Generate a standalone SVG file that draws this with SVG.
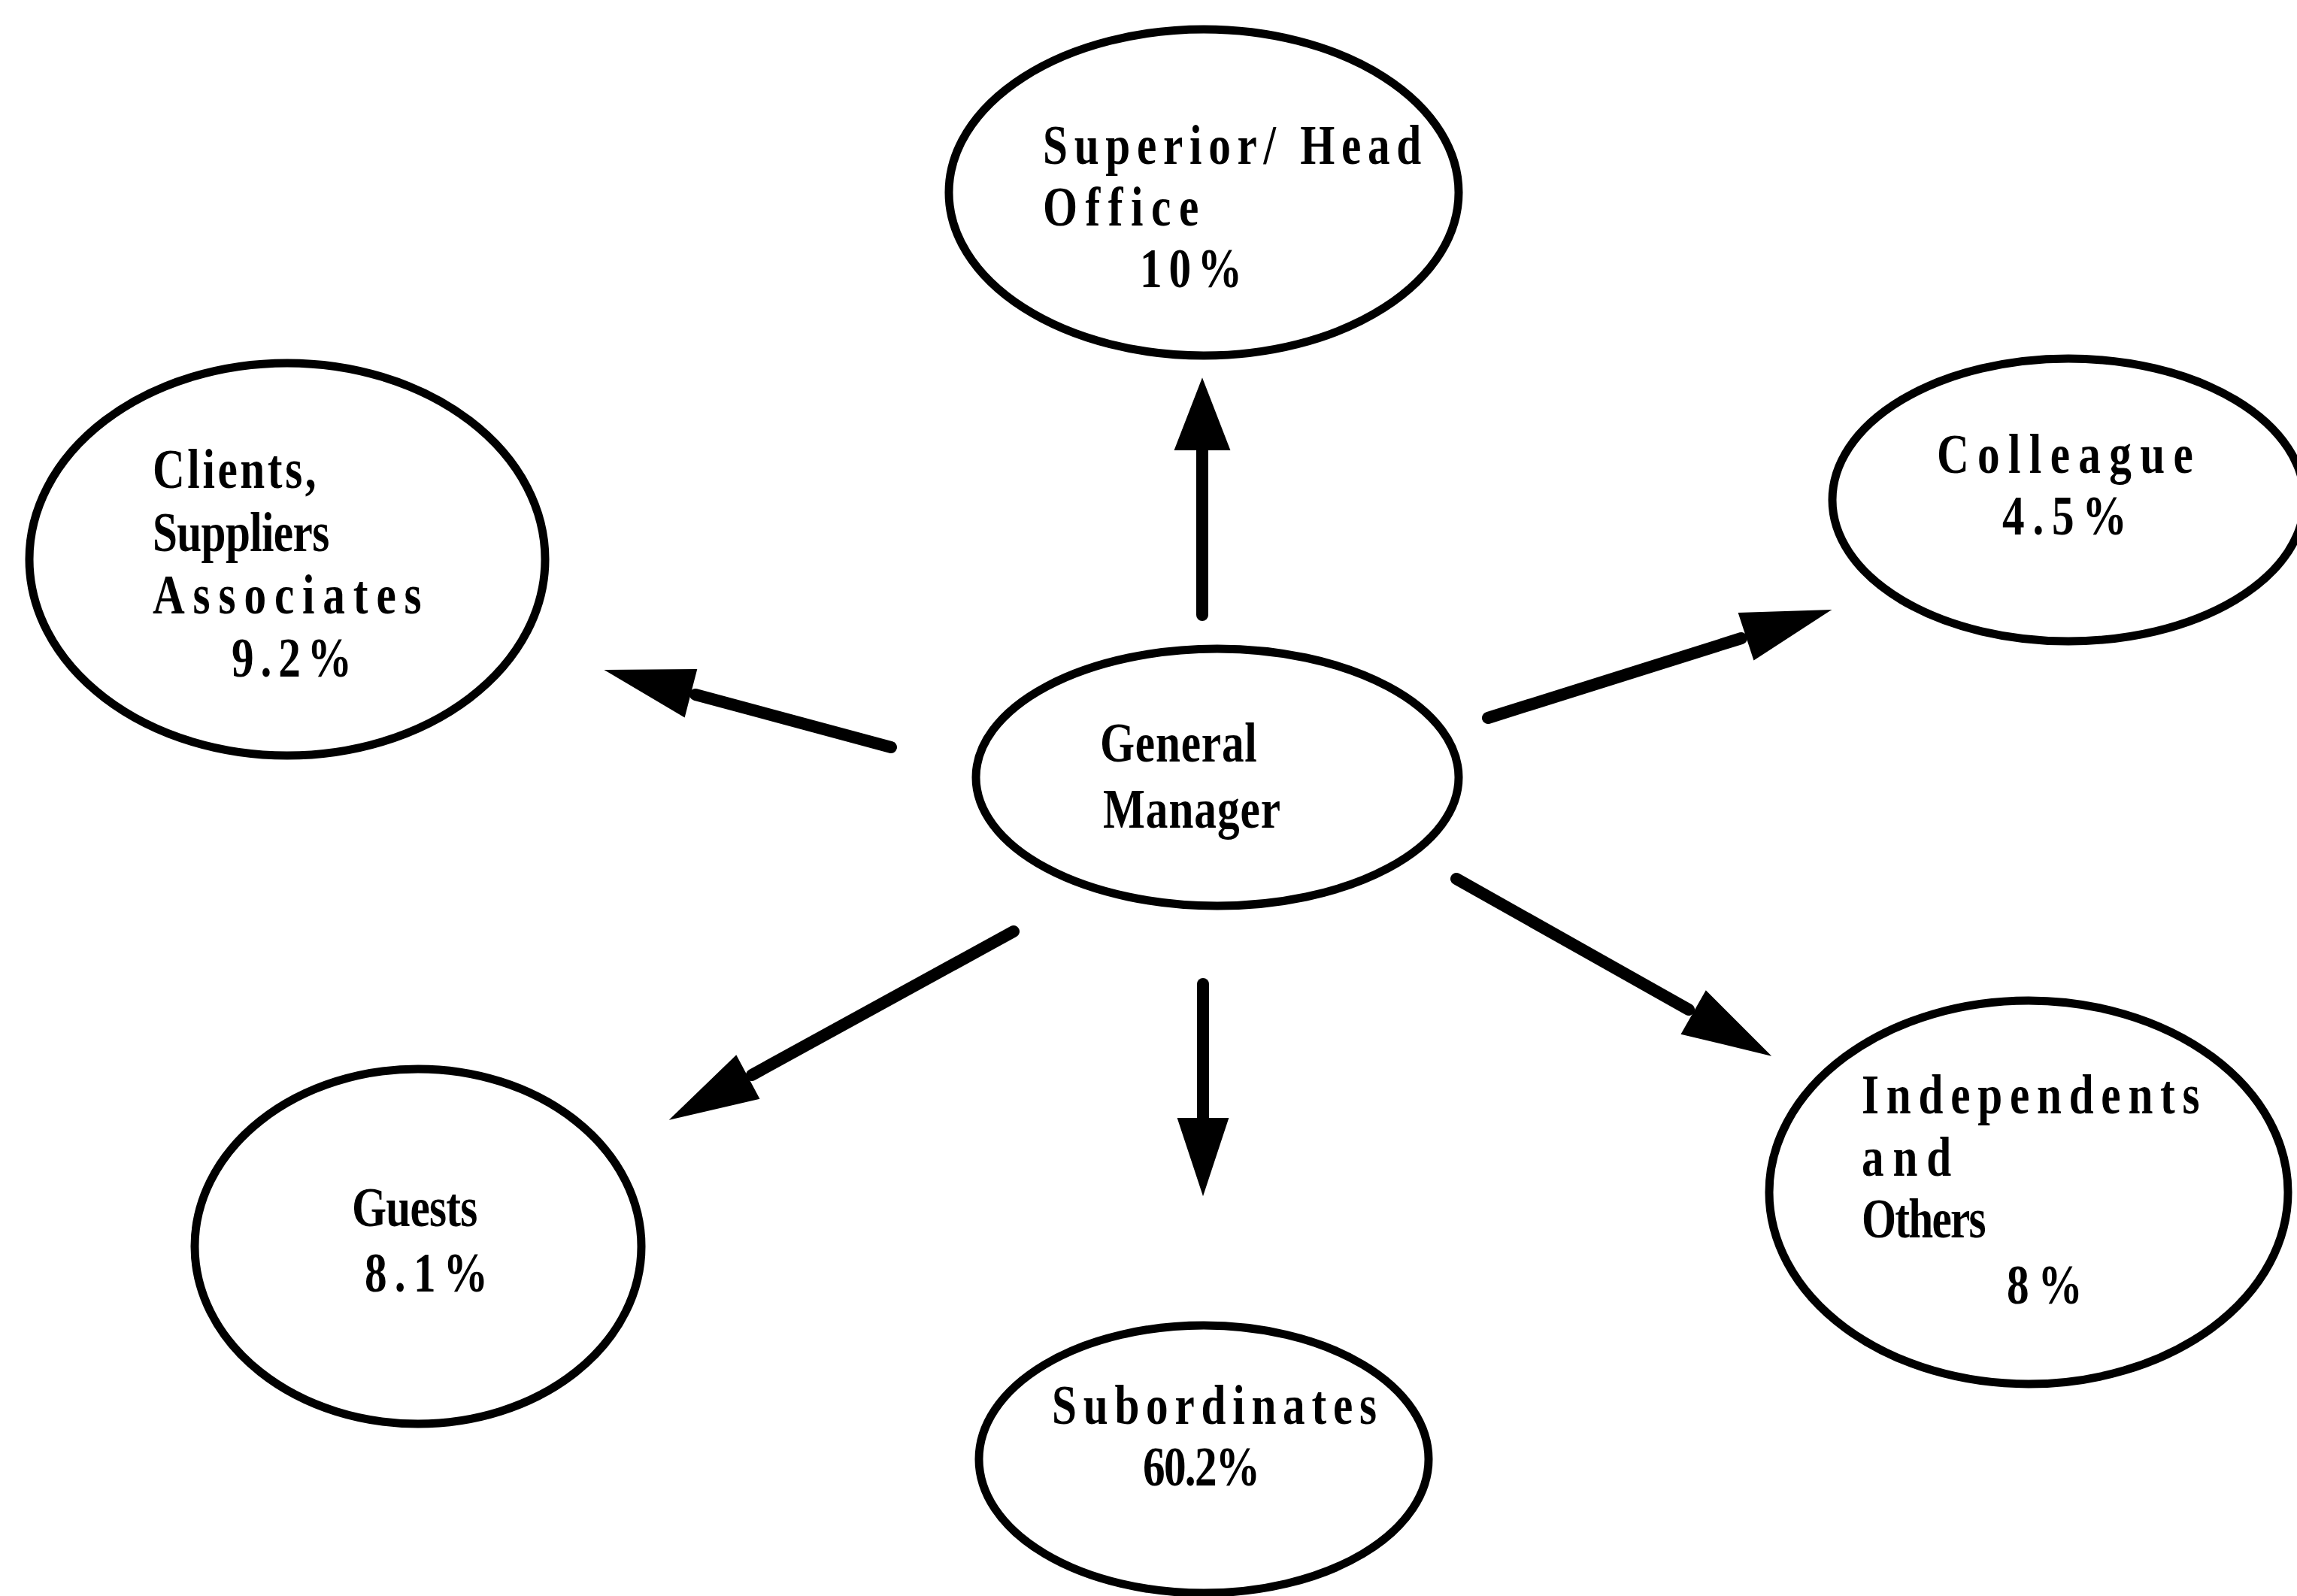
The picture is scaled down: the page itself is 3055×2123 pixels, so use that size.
<svg xmlns="http://www.w3.org/2000/svg" width="3055" height="2123" viewBox="0 0 3055 2123">
  <style>
    .node ellipse { fill: #ffffff; stroke: #000000; stroke-width: 11; }
    .node text { font-family: "Liberation Serif", "Times New Roman", serif; font-weight: bold; font-size: 74px; fill: #000000; }
    .edge { stroke: #000000; stroke-width: 16; stroke-linecap: round; fill: none; }
    .head { fill: #000000; stroke: #000000; stroke-width: 2; stroke-linejoin: miter; }
  </style>
  <rect x="0" y="0" width="3055" height="2123" fill="#ffffff"/>

  <!-- connectors: General Manager to each contact group -->
  <g id="connectors">
    <!-- up: Superior / Head Office -->
    <line class="edge" x1="1599" y1="818" x2="1599" y2="590"/>
    <polygon class="head" points="1599,505 1635,598 1563,598"/>
    <!-- left: Clients, Suppliers, Associates -->
    <line class="edge" x1="1185" y1="994" x2="925" y2="924"/>
    <polygon class="head" points="807,892 926,891 910,953"/>
    <!-- right: Colleague -->
    <line class="edge" x1="1979" y1="955" x2="2316" y2="849"/>
    <polygon class="head" points="2433,812 2333,877 2313,816"/>
    <!-- down-left: Guests -->
    <line class="edge" x1="1348" y1="1239" x2="1000" y2="1430"/>
    <polygon class="head" points="893,1488 1009,1461 979,1405"/>
    <!-- down: Subordinates -->
    <line class="edge" x1="1600" y1="1309" x2="1600" y2="1495"/>
    <polygon class="head" points="1600,1588 1567,1488 1633,1488"/>
    <!-- down-right: Independents and Others -->
    <line class="edge" x1="1937" y1="1169" x2="2246" y2="1343"/>
    <polygon class="head" points="2353,1403 2237,1375 2269,1319"/>
  </g>

  <g id="superior" class="node">
    <ellipse cx="1601" cy="256" rx="339" ry="217"/>
    <text transform="translate(1387,218) scale(0.8,1)" textLength="629" lengthAdjust="spacing">Superior/ Head</text>
    <text transform="translate(1387,300) scale(0.8,1)" textLength="259" lengthAdjust="spacing">Office</text>
    <text transform="translate(1516,382) scale(0.8,1)" textLength="170" lengthAdjust="spacing">10%</text>
  </g>

  <g id="clients" class="node">
    <ellipse cx="382" cy="744" rx="343" ry="261"/>
    <text transform="translate(203,649) scale(0.8,1)" textLength="272" lengthAdjust="spacing">Clients,</text>
    <text transform="translate(203,733) scale(0.8,1)" textLength="294" lengthAdjust="spacing">Suppliers</text>
    <text transform="translate(203,816) scale(0.8,1)" textLength="447" lengthAdjust="spacing">Associates</text>
    <text transform="translate(308,900) scale(0.8,1)" textLength="200" lengthAdjust="spacing">9.2%</text>
  </g>

  <g id="colleague" class="node">
    <ellipse cx="2751" cy="665" rx="314" ry="188"/>
    <text transform="translate(2576,629) scale(0.8,1)" textLength="426" lengthAdjust="spacing">Colleague</text>
    <text transform="translate(2663,711) scale(0.8,1)" textLength="207" lengthAdjust="spacing">4.5%</text>
  </g>

  <g id="general-manager" class="node">
    <ellipse cx="1619" cy="1034" rx="321" ry="171"/>
    <text transform="translate(1463,1013) scale(0.8,1)" textLength="261" lengthAdjust="spacing">General</text>
    <text transform="translate(1467,1101) scale(0.8,1)" textLength="295" lengthAdjust="spacing">Manager</text>
  </g>

  <g id="guests" class="node">
    <ellipse cx="556" cy="1658" rx="297" ry="236"/>
    <text transform="translate(468,1631) scale(0.8,1)" textLength="209" lengthAdjust="spacing">Guests</text>
    <text transform="translate(485,1718) scale(0.8,1)" textLength="205" lengthAdjust="spacing">8.1%</text>
  </g>

  <g id="subordinates" class="node">
    <ellipse cx="1601" cy="1941" rx="299" ry="178"/>
    <text transform="translate(1399,1894) scale(0.8,1)" textLength="540" lengthAdjust="spacing">Subordinates</text>
    <text transform="translate(1520,1976) scale(0.8,1)" textLength="195" lengthAdjust="spacing">60.2%</text>
  </g>

  <g id="independents" class="node">
    <ellipse cx="2698" cy="1586" rx="345" ry="255"/>
    <text transform="translate(2476,1481) scale(0.8,1)" textLength="562" lengthAdjust="spacing">Independents</text>
    <text transform="translate(2476,1564) scale(0.8,1)" textLength="149" lengthAdjust="spacing">and</text>
    <text transform="translate(2476,1646) scale(0.8,1)" textLength="207" lengthAdjust="spacing">Others</text>
    <text transform="translate(2669,1734) scale(0.8,1)" textLength="126" lengthAdjust="spacing">8%</text>
  </g>
</svg>
